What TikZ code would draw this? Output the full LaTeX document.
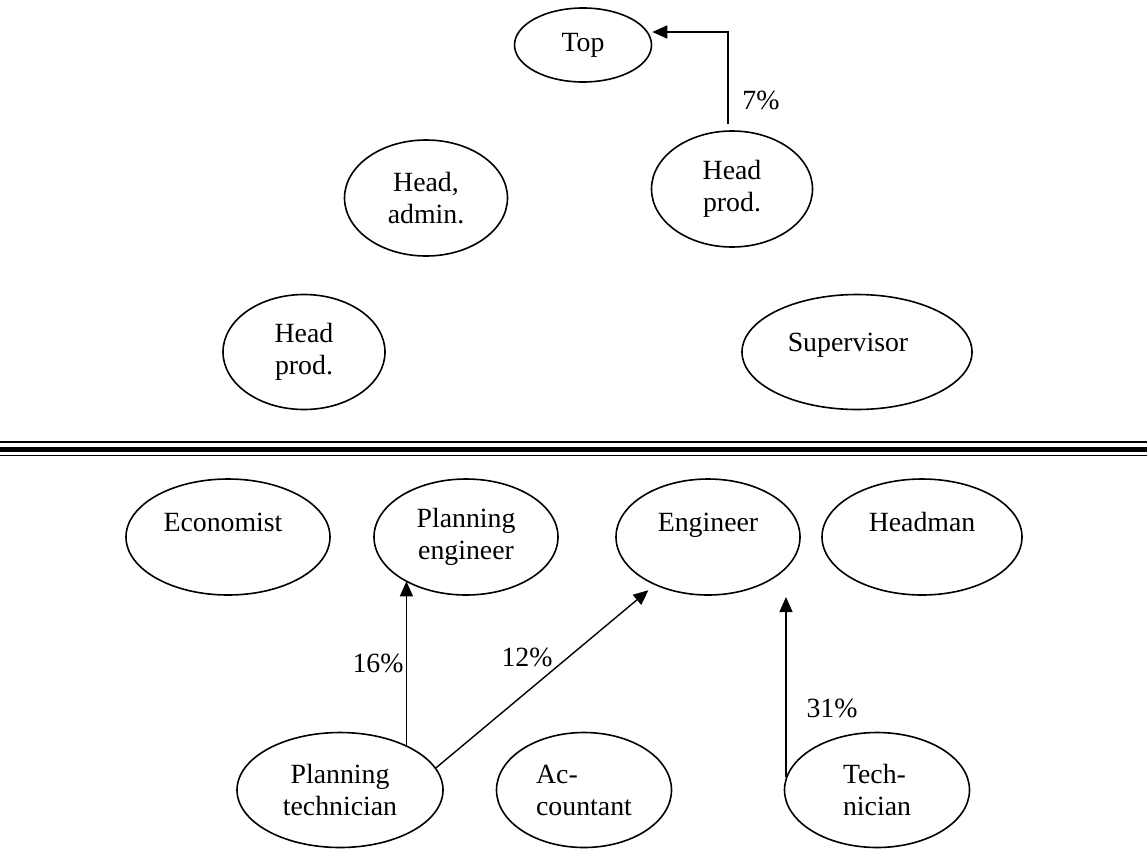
\documentclass[tikz,border=0pt]{standalone}
\usepackage{fontspec}
\setmainfont{Liberation Serif}
\usetikzlibrary{shapes.geometric,arrows.meta}
\begin{document}
\begin{tikzpicture}[x=1pt,y=-1pt,
  every node/.style={font=\fontsize{27.8}{32}\selectfont},
  oval/.style={ellipse,draw,line width=1.6pt,inner sep=0pt,align=center},
  one/.style={text height=8pt,text depth=20pt},
  arr/.style={line width=1.4pt,-{Triangle[length=15pt,width=13pt]}},
  sep/.style={line width=#1}
]
\useasboundingbox (0,0) rectangle (1147,851);

% upper group
\node[oval,minimum width=137pt,minimum height=74pt] (top) at (583,45) {Top};
\node[oval,minimum width=163pt,minimum height=116pt] (hadm) at (426,198) {Head,\\admin.};
\node[oval,minimum width=161pt,minimum height=116pt] (hpu) at (732,189) {Head\\prod.};
\node[oval,minimum width=162pt,minimum height=115pt] (hpl) at (304,352) {Head\\prod.};
\node[oval,minimum width=230pt,minimum height=115pt,text height=18pt,text depth=20pt] (sup) at (857,352) {Supervisor\hspace*{18pt}};

% separator
\draw[sep=1.5pt] (0,442) -- (1147,442);
\draw[sep=5pt] (0,449.2) -- (1147,449.2);
\draw[sep=1.5pt] (0,455.5) -- (1147,455.5);

% middle row
\node[oval,one,minimum width=204pt,minimum height=116pt] (eco) at (228,537) {Economist\hspace*{10pt}};
\node[oval,minimum width=184pt,minimum height=116pt] (pe) at (466,537) {Planning\\engineer};
\node[oval,one,minimum width=184pt,minimum height=116pt] (eng) at (708,537) {Engineer};
\node[oval,one,minimum width=200pt,minimum height=116pt] (hm) at (922,537) {Headman};

% bottom row
\node[oval,minimum width=206pt,minimum height=115pt] (pt) at (340,790) {Planning\\technician};
\node[oval,align=left,minimum width=175pt,minimum height=115pt] (acc) at (584,790) {Ac-\\countant};
\node[oval,align=left,minimum width=185pt,minimum height=115pt] (tech) at (877,790) {Tech-\\nician};

% connectors
\coordinate (k7) at (728,32);
\draw[arr,shorten <=6pt] (k7 |- hpu.north) -- (k7) -- (top.east |- k7);
\node (l7) at (761,100) {7\%};

\draw[arr] (pt.34) -- (pt.34 |- pe.216);
\node (l16) at (378,663) {16\%};

\draw[arr,shorten >=8pt] (pt.13) -- (eng.222);
\node (l12) at (527,657) {12\%};

\coordinate (t31) at (787,597);
\draw[arr] (tech.172) -- (tech.172 |- t31);
\node (l31) at (832,708) {31\%};
\end{tikzpicture}
\end{document}
